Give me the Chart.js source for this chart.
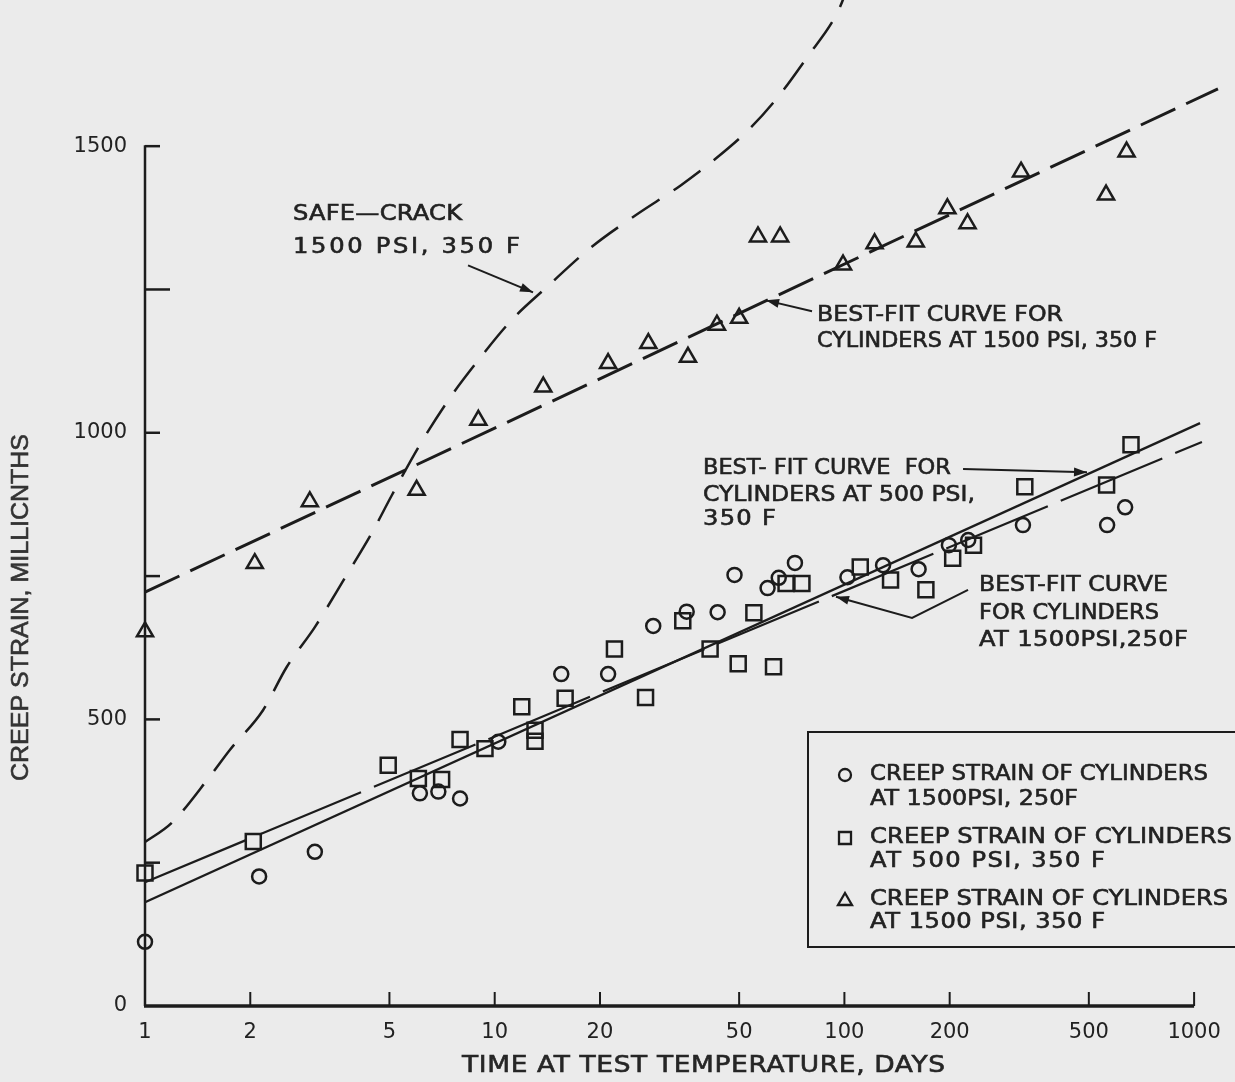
<!DOCTYPE html>
<html>
<head>
<meta charset="utf-8">
<script src="https://cdn.jsdelivr.net/npm/chart.js@4.4.1/dist/chart.umd.min.js"></script>
<style>
  html, body { margin: 0; padding: 0; background: #ebebeb; }
  canvas { display: block; }
</style>
</head>
<body>
<canvas id="c" width="1235" height="1082" style="width:1235px;height:1082px"></canvas>
<script>
// ---------------- DATA ----------------
const xTickValues = [1, 2, 5, 10, 20, 50, 100, 200, 500, 1000];
const yTickValues = [0, 250, 500, 750, 1000, 1250, 1500];
const yLabelValues = [0, 500, 1000, 1500];

// Creep strain of cylinders at 1500 psi, 250 F (circles)
const circleX = [1, 2.12, 3.06, 6.11, 6.90, 7.96, 10.24, 15.5, 21.1, 28.4, 35.4, 43.4, 48.5, 60.3, 64.9, 72.2, 102, 129, 163, 199, 226, 324, 564, 635];
const circleY = [112, 226, 269, 371, 374, 362, 461, 579, 579, 663, 688, 687, 752, 729, 747, 773, 748, 769, 762, 804, 813, 839, 839, 870];

// Creep strain of cylinders at 500 psi, 350 F (squares)
const squareX = [1, 2.04, 4.96, 6.05, 7.05, 7.96, 9.38, 11.95, 13.04, 13.04, 15.9, 22.0, 27.0, 34.5, 41.3, 49.7, 55.1, 62.7, 68.1, 75.6, 111, 135.5, 171, 204, 234, 328, 562, 660];
const squareY = [232, 287, 420, 397, 395, 465, 449, 522, 481, 462, 537, 623, 538, 672, 623, 597, 686, 592, 737, 737, 766, 743, 726, 781, 804, 906, 909, 979];

// Creep strain of cylinders at 1500 psi, 350 F (triangles)
const triangleX = [1, 2.06, 2.96, 5.98, 8.98, 13.77, 21.1, 27.5, 35.7, 43.2, 50.0, 56.6, 65.5, 99.1, 122, 160, 197, 225, 320, 560, 641];
const triangleY = [653, 772, 880, 900, 1022, 1080, 1121, 1156, 1132, 1188, 1200, 1342, 1342, 1293, 1330, 1333, 1391, 1365, 1455, 1415, 1490];

// Best-fit curves
const fitSquareX = [1, 1040];      // 500 psi, 350 F (solid)
const fitSquareY = [181, 1017];
const fitCircleX = [1, 1053];      // 1500 psi, 250 F (long dash)
const fitCircleY = [216, 984];
const fitTriangleX = [1, 1170];    // 1500 psi, 350 F (dashed)
const fitTriangleY = [722, 1600];

// Safe-crack 1500 psi, 350 F
const safeX = [1, 1.19, 1.535, 1.75, 2.175, 2.54, 3.06, 3.73, 4.45, 5.08, 6.11, 7.45, 8.88, 11.19, 14.08, 18.73, 25.35, 34.1, 43.4, 53.7, 64.6, 78.0, 95.3, 100.4];
const safeY = [286, 319, 401, 447, 516, 591, 661, 747, 825, 891, 979, 1061, 1123, 1197, 1254, 1322, 1380, 1432, 1481, 1531, 1586, 1654, 1732, 1764];

// ---------------- STYLE ----------------
const INK = '#1c1c1c';
const BG = '#ebebeb';
const pts = (xs, ys) => xs.map((x, i) => ({ x: x, y: ys[i] }));

function lineSet(xs, ys, width, dash, extra) {
  return Object.assign({
    data: pts(xs, ys), showLine: true, pointRadius: 0, borderColor: INK,
    borderWidth: width, borderDash: dash, fill: false, clip: false, borderCapStyle: 'butt'
  }, extra || {});
}
function markerSet(xs, ys, style, radius) {
  return {
    data: pts(xs, ys), showLine: false, pointStyle: style, pointRadius: radius,
    pointBorderWidth: 2.5, pointBorderColor: INK, pointBackgroundColor: 'rgba(0,0,0,0)',
    clip: false
  };
}

// draw text stretched/spaced to a given visible width (slightly thickened like lettering)
function fitText(ctx, text, x, y, width, font, maxStretch) {
  const ms = maxStretch || 1.15;
  ctx.save();
  ctx.font = font;
  ctx.letterSpacing = '0px';
  const w0 = ctx.measureText(text).width;
  const s = Math.min(Math.max(width / w0, 0.85), ms);
  const ls = (width / s - w0) / Math.max(1, text.length - 1);
  ctx.translate(x, y);
  ctx.scale(s, 1);
  ctx.letterSpacing = ls.toFixed(2) + 'px';
  ctx.textAlign = 'left';
  ctx.textBaseline = 'middle';
  ctx.fillText(text, 0, 0);
  ctx.lineWidth = 0.6;
  ctx.strokeStyle = ctx.fillStyle;
  ctx.strokeText(text, 0, 0);
  ctx.restore();
}

// annotation layout (anchored in data coordinates)
const ANNO_FONT = '21px "DejaVu Sans"';
const annotations = [
  { x: 2.65, rows: [['SAFE—CRACK', 1380, 169], ['1500 PSI, 350 F', 1324, 227]] },
  { x: 83.5, rows: [['BEST-FIT CURVE FOR', 1205, 246], ['CYLINDERS AT 1500 PSI, 350 F', 1160, 340]] },
  { x: 39.4, rows: [['BEST- FIT CURVE  FOR', 937, 248], ['CYLINDERS AT 500 PSI,', 891, 272], ['350 F', 848, 73]] },
  { x: 242.6, rows: [['BEST-FIT CURVE', 734, 189], ['FOR CYLINDERS', 684, 180], ['AT 1500PSI,250F', 637, 209]] }
];
const arrows = [
  [[8.39, 1292], [12.87, 1245]],
  [[80.8, 1212], [59.7, 1231]],
  [[218.4, 937], [494, 931]],
  [[225.7, 726], [156.1, 677], [94.6, 714]]
];

const overlay = {
  id: 'overlay',
  beforeDraw(chart) {
    const c = chart.ctx;
    c.save(); c.fillStyle = BG; c.fillRect(0, 0, chart.width, chart.height); c.restore();
  },
  afterDraw(chart) {
    const ctx = chart.ctx, xs = chart.scales.x, ys = chart.scales.y;
    const X = v => xs.getPixelForValue(v), Y = v => ys.getPixelForValue(v);
    const seg = (x1, y1, x2, y2) => { ctx.beginPath(); ctx.moveTo(x1, y1); ctx.lineTo(x2, y2); ctx.stroke(); };
    ctx.save();
    ctx.strokeStyle = INK; ctx.fillStyle = INK; ctx.lineCap = 'butt';

    // y axis line + inward ticks
    ctx.lineWidth = 2.5;
    seg(X(1), Y(0), X(1), Y(1500) - 1);
    yTickValues.forEach(v => {
      if (v === 0) return;
      const len = v === 1250 ? 25 : 15;
      seg(X(1), Y(v), X(1) + len, Y(v));
    });
    // x axis line + inward ticks
    ctx.lineWidth = 3.5;
    seg(X(1) - 1, Y(0), X(1000), Y(0));
    ctx.lineWidth = 2;
    xTickValues.forEach(v => { if (v !== 1) seg(X(v), Y(0), X(v), Y(0) - 14); });

    // annotations
    ctx.fillStyle = '#222';
    annotations.forEach(a => a.rows.forEach(r => fitText(ctx, r[0], X(a.x), Y(r[1]), r[2], ANNO_FONT)));

    // leader arrows
    ctx.lineWidth = 2;
    ctx.strokeStyle = INK; ctx.fillStyle = INK;
    arrows.forEach(path => {
      const p = path.map(q => [X(q[0]), Y(q[1])]);
      ctx.beginPath(); ctx.moveTo(p[0][0], p[0][1]);
      for (let i = 1; i < p.length; i++) ctx.lineTo(p[i][0], p[i][1]);
      ctx.stroke();
      const a = p[p.length - 2], b = p[p.length - 1];
      const ang = Math.atan2(b[1] - a[1], b[0] - a[0]);
      const L = 13, W = 4.5;
      ctx.beginPath();
      ctx.moveTo(b[0], b[1]);
      ctx.lineTo(b[0] - L * Math.cos(ang) + W * Math.sin(ang), b[1] - L * Math.sin(ang) - W * Math.cos(ang));
      ctx.lineTo(b[0] - L * Math.cos(ang) - W * Math.sin(ang), b[1] - L * Math.sin(ang) + W * Math.cos(ang));
      ctx.closePath(); ctx.fill();
    });

    // legend box
    ctx.lineWidth = 2;
    ctx.strokeStyle = INK;
    ctx.beginPath();
    ctx.moveTo(chart.width + 5, 732); ctx.lineTo(808, 732); ctx.lineTo(808, 947); ctx.lineTo(chart.width + 5, 947);
    ctx.stroke();
    const legendRows = [
      ['circle', 'CREEP STRAIN OF CYLINDERS', 775, 338, 'AT 1500PSI, 250F', 800, 208],
      ['rect', 'CREEP STRAIN OF CYLINDERS', 838, 362, 'AT 500 PSI, 350 F', 862, 235],
      ['triangle', 'CREEP STRAIN OF CYLINDERS', 900, 358, 'AT 1500 PSI, 350 F', 923, 235]
    ];
    legendRows.forEach(r => {
      const sx = 845, sy = r[2];
      ctx.lineWidth = 2.3;
      ctx.strokeStyle = INK;
      ctx.beginPath();
      if (r[0] === 'circle') ctx.arc(sx, sy, 6, 0, Math.PI * 2);
      else if (r[0] === 'rect') ctx.rect(sx - 6, sy - 6, 12, 12);
      else { ctx.moveTo(sx, sy - 7); ctx.lineTo(sx + 7, sy + 5); ctx.lineTo(sx - 7, sy + 5); ctx.closePath(); }
      ctx.stroke();
      ctx.fillStyle = '#222';
      fitText(ctx, r[1], 870, r[2], r[3], ANNO_FONT);
      fitText(ctx, r[4], 870, r[5], r[6], ANNO_FONT);
    });

    // axis titles
    ctx.fillStyle = '#262626';
    fitText(ctx, 'TIME AT TEST TEMPERATURE, DAYS', 462, 1066, 483, '23px "DejaVu Sans"');
    ctx.save();
    ctx.translate(22, 608);
    ctx.rotate(-Math.PI / 2);
    ctx.fillStyle = '#333';
    fitText(ctx, 'CREEP STRAIN, MILLICNTHS', -173, 0, 347, '23px "Liberation Sans"');
    ctx.restore();

    ctx.restore();
  }
};

new Chart(document.getElementById('c'), {
  type: 'scatter',
  data: {
    datasets: [
      markerSet(circleX, circleY, 'circle', 7),
      markerSet(squareX, squareY, 'rect', 10.6),
      markerSet(triangleX, triangleY, 'triangle', 9.3),
      lineSet(fitSquareX, fitSquareY, 2.4, []),
      lineSet(fitCircleX, fitCircleY, 2.2, [110, 14]),
      lineSet(fitTriangleX, fitTriangleY, 3, [38, 12]),
      lineSet(safeX, safeY, 2.5, [33, 17], { cubicInterpolationMode: 'monotone' })
    ]
  },
  options: {
    responsive: false,
    animation: false,
    events: [],
    layout: { padding: 0, autoPadding: false },
    plugins: { legend: { display: false }, tooltip: { enabled: false } },
    scales: {
      x: {
        type: 'logarithmic', min: 1, max: 1309,
        grid: { display: false, drawTicks: false },
        border: { display: false },
        afterBuildTicks: s => { s.ticks = xTickValues.map(v => ({ value: v })); },
        afterFit: s => { s.height = 76; s.paddingLeft = 0; s.paddingRight = 0; },
        ticks: {
          autoSkip: false, maxRotation: 0, minRotation: 0, padding: 14,
          color: '#222', font: { family: 'DejaVu Sans', size: 21 },
          callback: v => String(v)
        }
      },
      y: {
        type: 'linear', min: 0, max: 1755,
        grid: { display: false, drawTicks: false },
        border: { display: false },
        afterBuildTicks: s => { s.ticks = yTickValues.map(v => ({ value: v })); },
        afterFit: s => { s.width = 145; s.paddingTop = 0; s.paddingBottom = 0; },
        ticks: {
          autoSkip: false, padding: 18,
          color: '#222', font: { family: 'DejaVu Sans', size: 21 },
          callback: v => (yLabelValues.indexOf(v) >= 0 ? String(v) : '')
        }
      }
    }
  },
  plugins: [overlay]
});
</script>
</body>
</html>
